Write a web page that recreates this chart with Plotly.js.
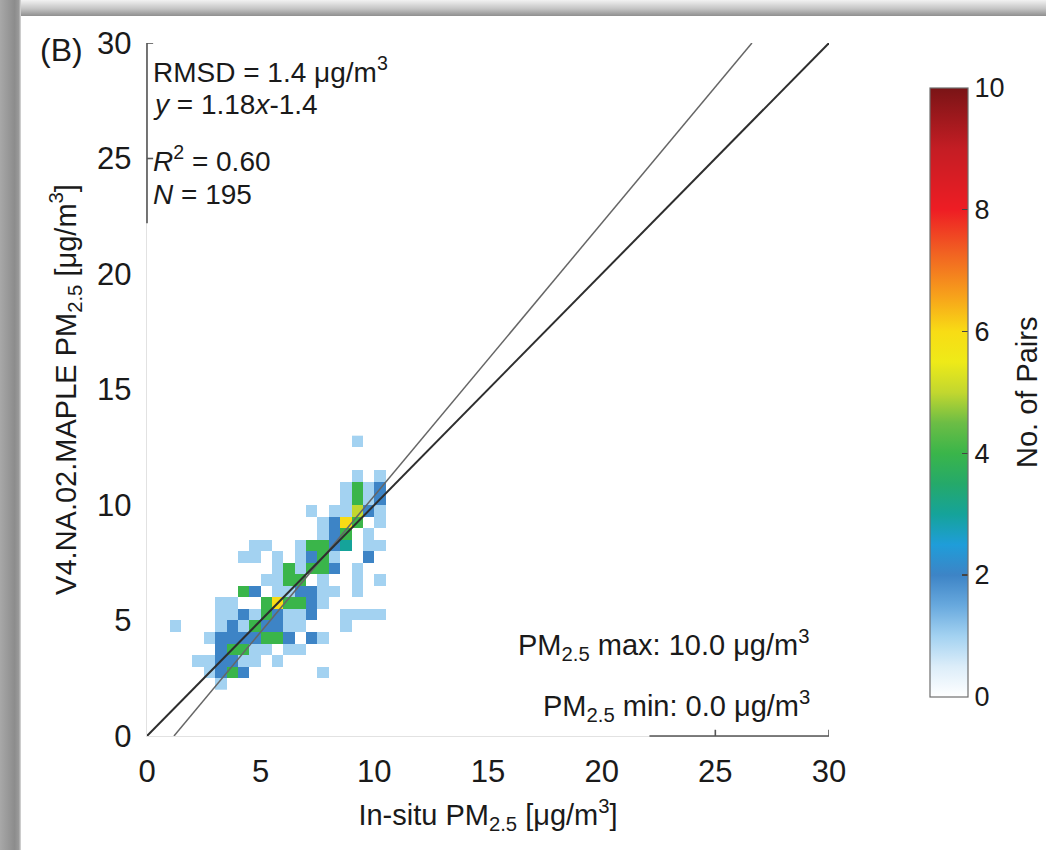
<!DOCTYPE html>
<html>
<head>
<meta charset="utf-8">
<script src="https://cdn.plot.ly/plotly-3.0.1.min.js"></script>
<style>
  html, body { margin: 0; padding: 0; background: #ffffff; }
  #wrap { position: relative; width: 1046px; height: 850px; overflow: hidden; }
  #chart { position: absolute; left: 0; top: 0; width: 1046px; height: 850px; }
  #topEdge { position: absolute; left: 0; top: 0; width: 1046px; height: 16px;
    background: linear-gradient(to bottom, #f2f2f2 0%, #c4c4c4 55%, #8f8f8f 100%); pointer-events: none; }
  #leftEdge { position: absolute; left: 0; top: 0; width: 21px; height: 850px;
    background: linear-gradient(to right, #a8a8a8 0%, #8c8c8c 70%, #9a9a9a 90%, #dcdcdc 100%); pointer-events: none; }
</style>
</head>
<body>
<div id="wrap">
  <div id="chart"></div>
  <div id="topEdge"></div>
  <div id="leftEdge"></div>
</div>
<script>
// ---- data ----
// bin centres (0.5 µg/m3 bins)
const binX = [0.25, 0.75, 1.25, 1.75, 2.25, 2.75, 3.25, 3.75, 4.25, 4.75, 5.25,
              5.75, 6.25, 6.75, 7.25, 7.75, 8.25, 8.75, 9.25, 9.75, 10.25, 10.75];
const binY = [2.25, 2.75, 3.25, 3.75, 4.25, 4.75, 5.25, 5.75, 6.25, 6.75, 7.25,
              7.75, 8.25, 8.75, 9.25, 9.75, 10.25, 10.75, 11.25, 11.75, 12.25, 12.75];
// number of pairs per cell; one row per y bin (bottom to top), one column per x bin
const pairCounts = [
  [0,0,0,0,0,0,1,0,0,0,0,0,0,0,0,0,0,0,0,0,0,0],
  [0,0,0,0,0,1,2,4,2,0,0,0,0,0,0,1,0,0,0,0,0,0],
  [0,0,0,0,1,1,2,2,1,1,0,1,0,0,0,0,0,0,0,0,0,0],
  [0,0,0,0,0,0,2,4,4,1,1,0,1,1,0,0,0,0,0,0,0,0],
  [0,0,0,0,0,1,2,2,2,2,4,4,2,0,2,1,0,0,0,0,0,0],
  [0,0,1,0,0,0,1,2,1,4,2,2,1,1,0,0,0,1,0,0,0,0],
  [0,0,0,0,0,0,1,1,2,1,4,2,1,1,2,0,0,1,1,1,1,0],
  [0,0,0,0,0,0,1,1,0,0,4,6,4,4,2,1,0,0,0,0,0,0],
  [0,0,0,0,0,0,0,0,4,2,0,1,1,2,2,1,1,0,1,0,0,0],
  [0,0,0,0,0,0,0,0,0,0,1,1,4,4,0,1,0,0,1,0,1,0],
  [0,0,0,0,0,0,0,0,0,0,0,1,4,1,4,4,2,0,1,0,0,0],
  [0,0,0,0,0,0,0,0,1,1,0,1,0,1,2,4,1,0,0,2,0,0],
  [0,0,0,0,0,0,0,0,0,1,1,0,0,1,4,4,2,3,0,1,1,0],
  [0,0,0,0,0,0,0,0,0,0,0,0,0,0,0,1,2,4,0,1,0,0],
  [0,0,0,0,0,0,0,0,0,0,0,0,0,0,0,1,2,6,4,0,1,0],
  [0,0,0,0,0,0,0,0,0,0,0,0,0,0,1,0,1,1,5,2,1,0],
  [0,0,0,0,0,0,0,0,0,0,0,0,0,0,0,0,0,1,4,1,2,0],
  [0,0,0,0,0,0,0,0,0,0,0,0,0,0,0,0,0,1,4,1,2,0],
  [0,0,0,0,0,0,0,0,0,0,0,0,0,0,0,0,0,0,1,0,1,0],
  [0,0,0,0,0,0,0,0,0,0,0,0,0,0,0,0,0,0,0,0,0,0],
  [0,0,0,0,0,0,0,0,0,0,0,0,0,0,0,0,0,0,0,0,0,0],
  [0,0,0,0,0,0,0,0,0,0,0,0,0,0,0,0,0,0,1,0,0,0]
];
// regression fit and reference line
const fitSlope = 1.18;
const fitIntercept = -1.4;
const axisMax = 30;
const axisTicks = [0, 5, 10, 15, 20, 25, 30];
const cbTicks = [0, 2, 4, 6, 8, 10];
const statLines = ['RMSD = 1.4 μg/m<sup>3</sup>', '<i>y</i> = 1.18<i>x</i>-1.4',
                   '<i>R</i><sup>2</sup> = 0.60', '<i>N</i> = 195'];
const statY = [28.85, 27.35, 25.0, 23.45];

// ---- build ----
const FONT = 'Liberation Sans, Arial, Helvetica, sans-serif';
const INK = '#1a1a1a';
const zGrid = pairCounts.map(r => r.map(v => v === 0 ? null : v));

const colorScale = [
  [0.00, '#ffffff'], [0.05, '#dcedf9'], [0.10, '#a3d2f1'], [0.15, '#68a9de'],
  [0.20, '#3d84c6'], [0.25, '#1f9dd9'], [0.30, '#15a39a'], [0.35, '#25a96a'],
  [0.40, '#3ab54a'], [0.45, '#6cbd45'], [0.50, '#c2d72f'], [0.55, '#eeea18'],
  [0.60, '#f8dc15'], [0.66, '#f7a01b'], [0.73, '#f16122'], [0.80, '#ee1d24'],
  [0.90, '#c41d24'], [1.00, '#7a1416']
];

const heat = {
  type: 'heatmap', x: binX, y: binY, z: zGrid, zmin: 0, zmax: 10,
  colorscale: colorScale, hoverongaps: false, showscale: true,
  colorbar: {
    x: 1.148, xanchor: 'left', xpad: 0, y: 0.496, yanchor: 'middle', ypad: 0,
    thickness: 38, thicknessmode: 'pixels', len: 609, lenmode: 'pixels',
    outlinewidth: 1.2, outlinecolor: '#6e6e6e',
    tickvals: cbTicks, ticktext: cbTicks.map(String), ticks: 'inside', ticklen: 6,
    tickcolor: '#444', tickwidth: 1.2,
    tickfont: { family: FONT, size: 27, color: INK }
  }
};

const oneToOne = {
  type: 'scatter', mode: 'lines', x: [0, axisMax], y: [0, axisMax],
  line: { color: '#2e2e2e', width: 2 }, hoverinfo: 'skip', showlegend: false
};
const fitX = [(0 - fitIntercept) / fitSlope, (axisMax - fitIntercept) / fitSlope];
const fitLine = {
  type: 'scatter', mode: 'lines', x: fitX, y: fitX.map(v => fitSlope * v + fitIntercept),
  line: { color: '#666666', width: 1.5 }, hoverinfo: 'skip', showlegend: false
};

const annFont = { family: FONT, size: 29, color: INK };
const statFont = { family: FONT, size: 28, color: INK };
const annotations = statLines.map((t, k) => ({
  xref: 'x', yref: 'y', x: 0.2, y: statY[k], xanchor: 'left', yanchor: 'middle',
  text: t, showarrow: false, font: statFont, borderpad: 0
}));
annotations.push(
  { xref: 'paper', yref: 'paper', x: -0.125, y: 0.99, xanchor: 'center', yanchor: 'middle',
    text: '(B)', showarrow: false, font: { family: FONT, size: 32, color: INK } },
  { xref: 'x', yref: 'y', x: 29.25, y: 3.95, xanchor: 'right', yanchor: 'middle',
    text: 'PM<sub>2.5</sub> max: 10.0 μg/m<sup>3</sup>', showarrow: false, font: annFont },
  { xref: 'x', yref: 'y', x: 29.25, y: 1.3, xanchor: 'right', yanchor: 'middle',
    text: 'PM<sub>2.5</sub> min: 0.0 μg/m<sup>3</sup>', showarrow: false, font: annFont },
  { xref: 'paper', yref: 'paper', x: 1.29, y: 0.496, xanchor: 'center', yanchor: 'middle',
    text: 'No. of Pairs', textangle: -90, showarrow: false, borderpad: 0,
    font: { family: FONT, size: 29, color: INK } }
);

// partial dark axis segments and their ticks (as in the reference scan)
const dark = { color: '#555555', width: 1.6 };
const shapes = [
  { type: 'line', xref: 'paper', yref: 'y', x0: 0, x1: 0, y0: 22.2, y1: 30, line: dark },
  { type: 'line', xref: 'x', yref: 'paper', x0: 22.1, x1: 30, y0: 0, y1: 0, line: dark },
  { type: 'line', xref: 'paper', yref: 'y', x0: 0, x1: 0.009, y0: 30, y1: 30, line: dark },
  { type: 'line', xref: 'paper', yref: 'y', x0: 0, x1: 0.009, y0: 25, y1: 25, line: dark },
  { type: 'line', xref: 'x', yref: 'paper', x0: 25, x1: 25, y0: 0, y1: 0.009, line: dark },
  { type: 'line', xref: 'x', yref: 'paper', x0: 30, x1: 30, y0: 0, y1: 0.009, line: dark }
];

const axisCommon = {
  range: [0, axisMax], tickvals: axisTicks, ticktext: axisTicks.map(String),
  showgrid: false, zeroline: false, showline: true, linecolor: '#e2e2e2', linewidth: 1.2,
  ticks: '', mirror: false, fixedrange: true,
  tickfont: { family: FONT, size: 31, color: INK }
};

const layout = {
  width: 1046, height: 850,
  margin: { l: 147, r: 217, t: 43, b: 114, pad: 0 },
  paper_bgcolor: '#ffffff', plot_bgcolor: '#ffffff',
  showlegend: false,
  font: { family: FONT, size: 29, color: INK },
  xaxis: Object.assign({}, axisCommon, {
    ticklabelstandoff: 8,
    title: { text: 'In-situ PM<sub>2.5</sub> [μg/m<sup>3</sup>]', standoff: 16,
             font: { family: FONT, size: 29, color: INK } }
  }),
  yaxis: Object.assign({}, axisCommon, {
    ticklabelstandoff: 8,
    title: { text: 'V4.NA.02.MAPLE PM<sub>2.5</sub> [μg/m<sup>3</sup>]', standoff: 12,
             font: { family: FONT, size: 29, color: INK } }
  }),
  annotations: annotations,
  shapes: shapes
};

Plotly.newPlot('chart', [heat, fitLine, oneToOne], layout, { displayModeBar: false, staticPlot: true });
</script>
</body>
</html>
